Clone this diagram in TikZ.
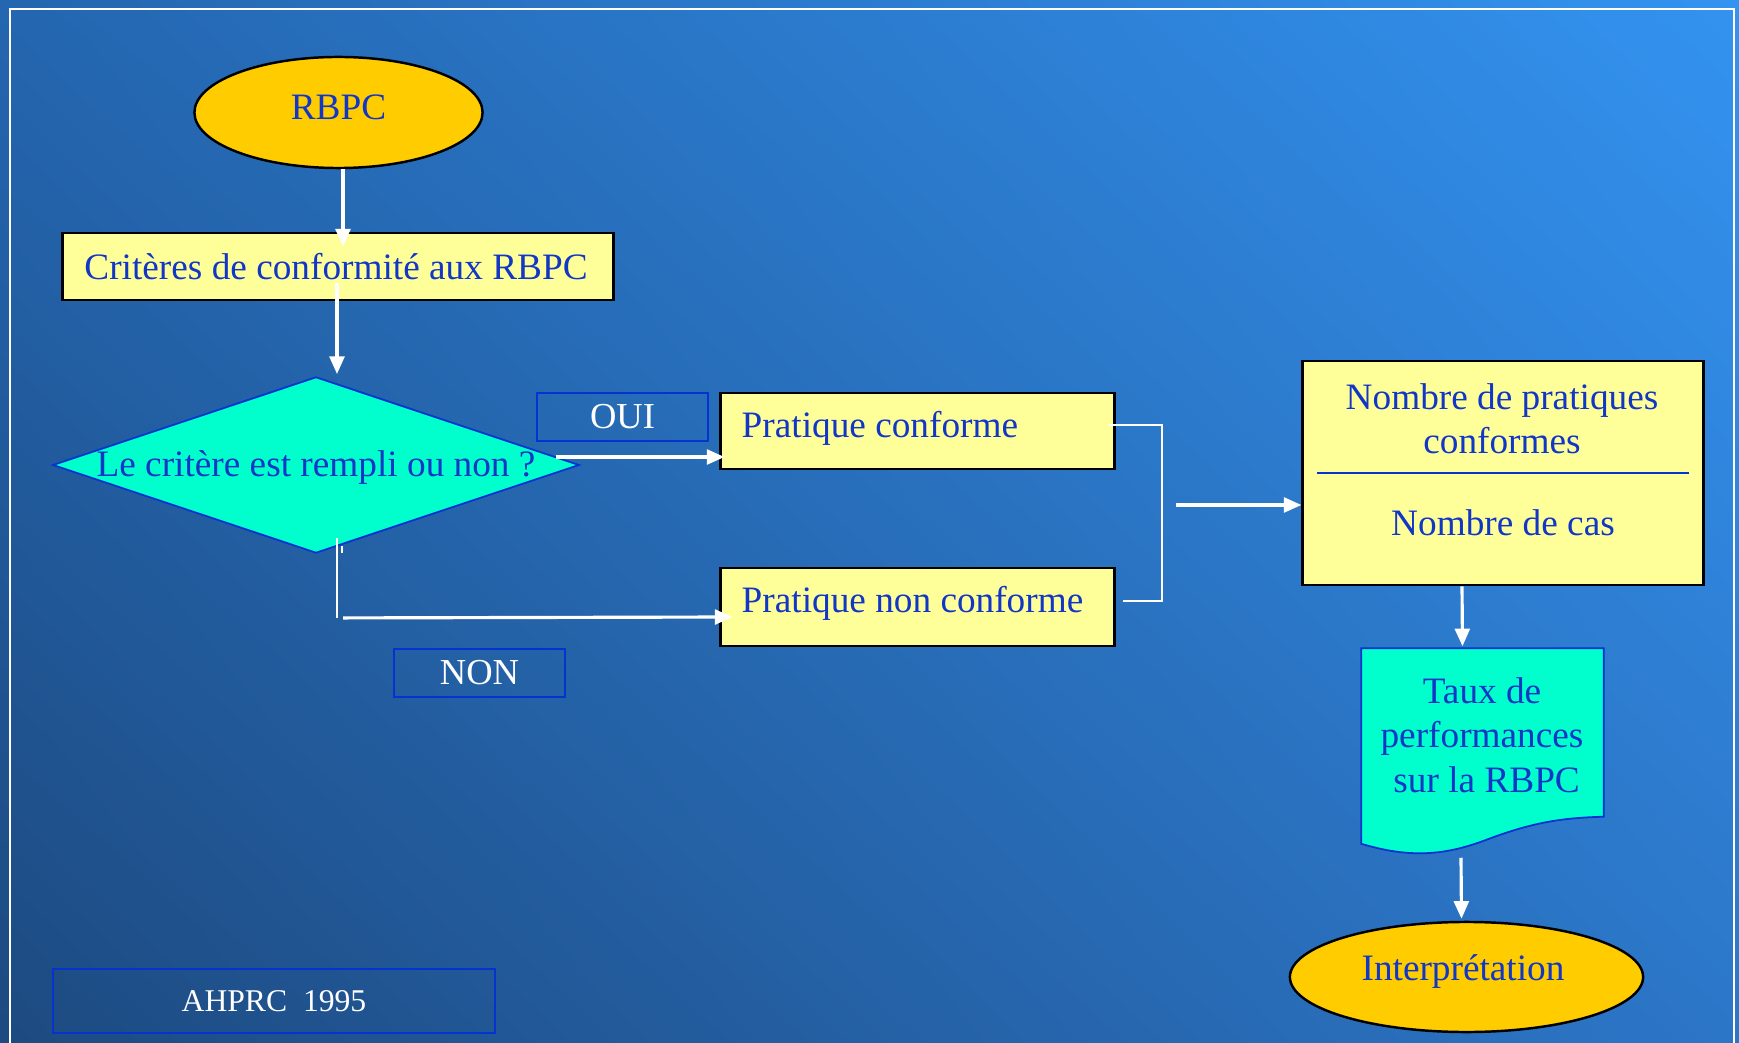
\documentclass[tikz,border=0pt]{standalone}
\usepackage{fontspec}
\setmainfont{Liberation Serif}
\usetikzlibrary{shapes.geometric,arrows.meta,calc,shadings}

\definecolor{bgUL}{HTML}{2466B0}
\definecolor{bgUR}{HTML}{3393F0}
\definecolor{bgLL}{HTML}{1D4A80}
\definecolor{bgLR}{HTML}{2C76C8}
\definecolor{txtblue}{HTML}{1236C6}
\definecolor{edgeblue}{HTML}{0433D0}
\definecolor{boxyellow}{HTML}{FFFF99}
\definecolor{ovalgold}{HTML}{FFCC00}
\definecolor{aqua}{HTML}{00FFCC}

\tikzset{
  maintext/.style={font=\fontsize{10.6}{12.6}\selectfont, text=txtblue},
  yellowbox/.style={rectangle, fill=boxyellow, draw=black, line width=0.8pt, inner sep=0pt},
  oval/.style={ellipse, fill=ovalgold, draw=black, line width=0.7pt, inner sep=0pt, maintext},
  tagbox/.style={rectangle, draw=edgeblue, line width=0.6pt, inner sep=0pt,
                 text=white, font=\fontsize{10.4}{12.6}\selectfont},
  arr/.style={draw=white, line width=0.9pt,
              -{Triangle[length=5pt, width=4.2pt]}},
  hair/.style={draw=white, line width=0.35pt},
}

\begin{document}
\begin{tikzpicture}[x=0.01cm, y=-0.01cm]
  \useasboundingbox (0,0) rectangle (1739,1043);
  \clip (0,0) rectangle (1739,1043);

  % background and frame
  \shade[upper left=bgUL, upper right=bgUR, lower left=bgLL, lower right=bgLR]
    (0,0) rectangle (1739,1043);
  \draw[white, line width=0.6pt] (10,9) rectangle (1734,1080);

  % start oval and criteria box
  \node[oval, minimum width=2.88cm, minimum height=1.11cm] (rbpc) at (338.5,112.5) {};
  \node[maintext] at (338.5,107) {RBPC};

  \node[yellowbox, minimum width=5.50cm, minimum height=0.67cm] (crit) at (338,266.5) {};
  \node[maintext] at (336,267) {Critères de conformité aux RBPC};

  % decision diamond
  \node[diamond, fill=aqua, draw=edgeblue, line width=0.5pt, inner sep=0pt,
        minimum width=5.26cm, minimum height=1.76cm] (dia) at (316,465) {};
  \node[maintext] at (316,468) {Le critère est rempli ou non ?};

  % branch labels
  \node[tagbox, minimum width=1.71cm, minimum height=0.48cm] (oui) at (622.5,417) {OUI};
  \node[tagbox, minimum width=1.71cm, minimum height=0.48cm] (non) at (479.5,673) {NON};

  % outcome boxes
  \node[yellowbox, minimum width=3.93cm, minimum height=0.76cm] (pc) at (917.5,431) {};
  \node[maintext, anchor=west, inner sep=0pt] at (741,428) {Pratique conforme};

  \node[yellowbox, minimum width=3.93cm, minimum height=0.78cm] (pnc) at (917.5,607) {};
  \node[maintext, anchor=west, inner sep=0pt] at (741,603) {Pratique non conforme};

  % ratio box
  \node[yellowbox, minimum width=4.00cm, minimum height=2.24cm] (nb) at (1503,473) {};
  \draw[edgeblue, line width=0.8pt] ($(nb.west)+(16,0)$) -- ($(nb.east)+(-16,0)$);
  \node[maintext, align=center] at (1502,419) {Nombre de pratiques\\conformes};
  \node[maintext] at (1503,523) {Nombre de cas};

  % document shape for the rate
  \node[rectangle, inner sep=0pt, minimum width=2.41cm, minimum height=1.67cm] (taux) at (1482.5,732.5) {};
  \draw[fill=aqua, draw=edgeblue, line width=0.5pt]
    (taux.north west) -- (taux.north east) -- (taux.south east)
    .. controls ($(taux.south east)+(-43,1)$) and ($(taux.south east)+(-73,6)$) .. ($(taux.south east)+(-120,24)$)
    .. controls ($(taux.south east)+(-158,38)$) and ($(taux.south east)+(-193,42)$) .. ($(taux.south west)+(0,27)$)
    -- cycle;
  \node[maintext, align=center] at (1482,735) {Taux de\\performances\\\ sur la RBPC};

  % final oval
  \node[oval, minimum width=3.53cm, minimum height=1.10cm] (interp) at (1466.5,977) {};
  \node[maintext] at (1463,972) {Interprétation};

  % source tag
  \node[tagbox, minimum width=4.41cm, minimum height=0.64cm,
        font=\fontsize{9}{11}\selectfont] (src) at (274,1001) {AHPRC~~1995};

  % connectors
  \draw[arr] ($(rbpc.south)+(4.5,0)$) -- ($(crit.north)+(5,15)$);
  \draw[arr] ($(crit.south)+(-1,-18)$) -- ($(dia.north)+(21,-2)$);
  \draw[arr] ($(dia.east)+(-24,-8)$) -- ($(pc.west)+(5,26)$);

  \draw[hair] ($(dia.south)+(21,-16)$) -- ($(dia.south)+(21,64)$);
  \draw[hair] ($(dia.south)+(26,-8)$) -- ($(dia.south)+(26,-1)$);
  \draw[arr] ($(dia.south)+(27,64)$) -- ($(pnc.west)+(13,10)$);

  \coordinate (join) at (1162,505);
  \draw[hair] ($(pc.east)+(-7,-6)$) -| (join) |- ($(pnc.east)+(7,-6)$);
  \draw[arr] ($(join)+(14,0)$) -- ($(nb.west)+(0,32)$);

  \draw[arr] ($(nb.south)+(-41,0)$) -- ($(taux.north)+(-20,-2)$);
  \draw[arr] ($(taux.south)+(-21.5,41)$) -- ($(interp.north)+(-5,-2)$);
\end{tikzpicture}
\end{document}
